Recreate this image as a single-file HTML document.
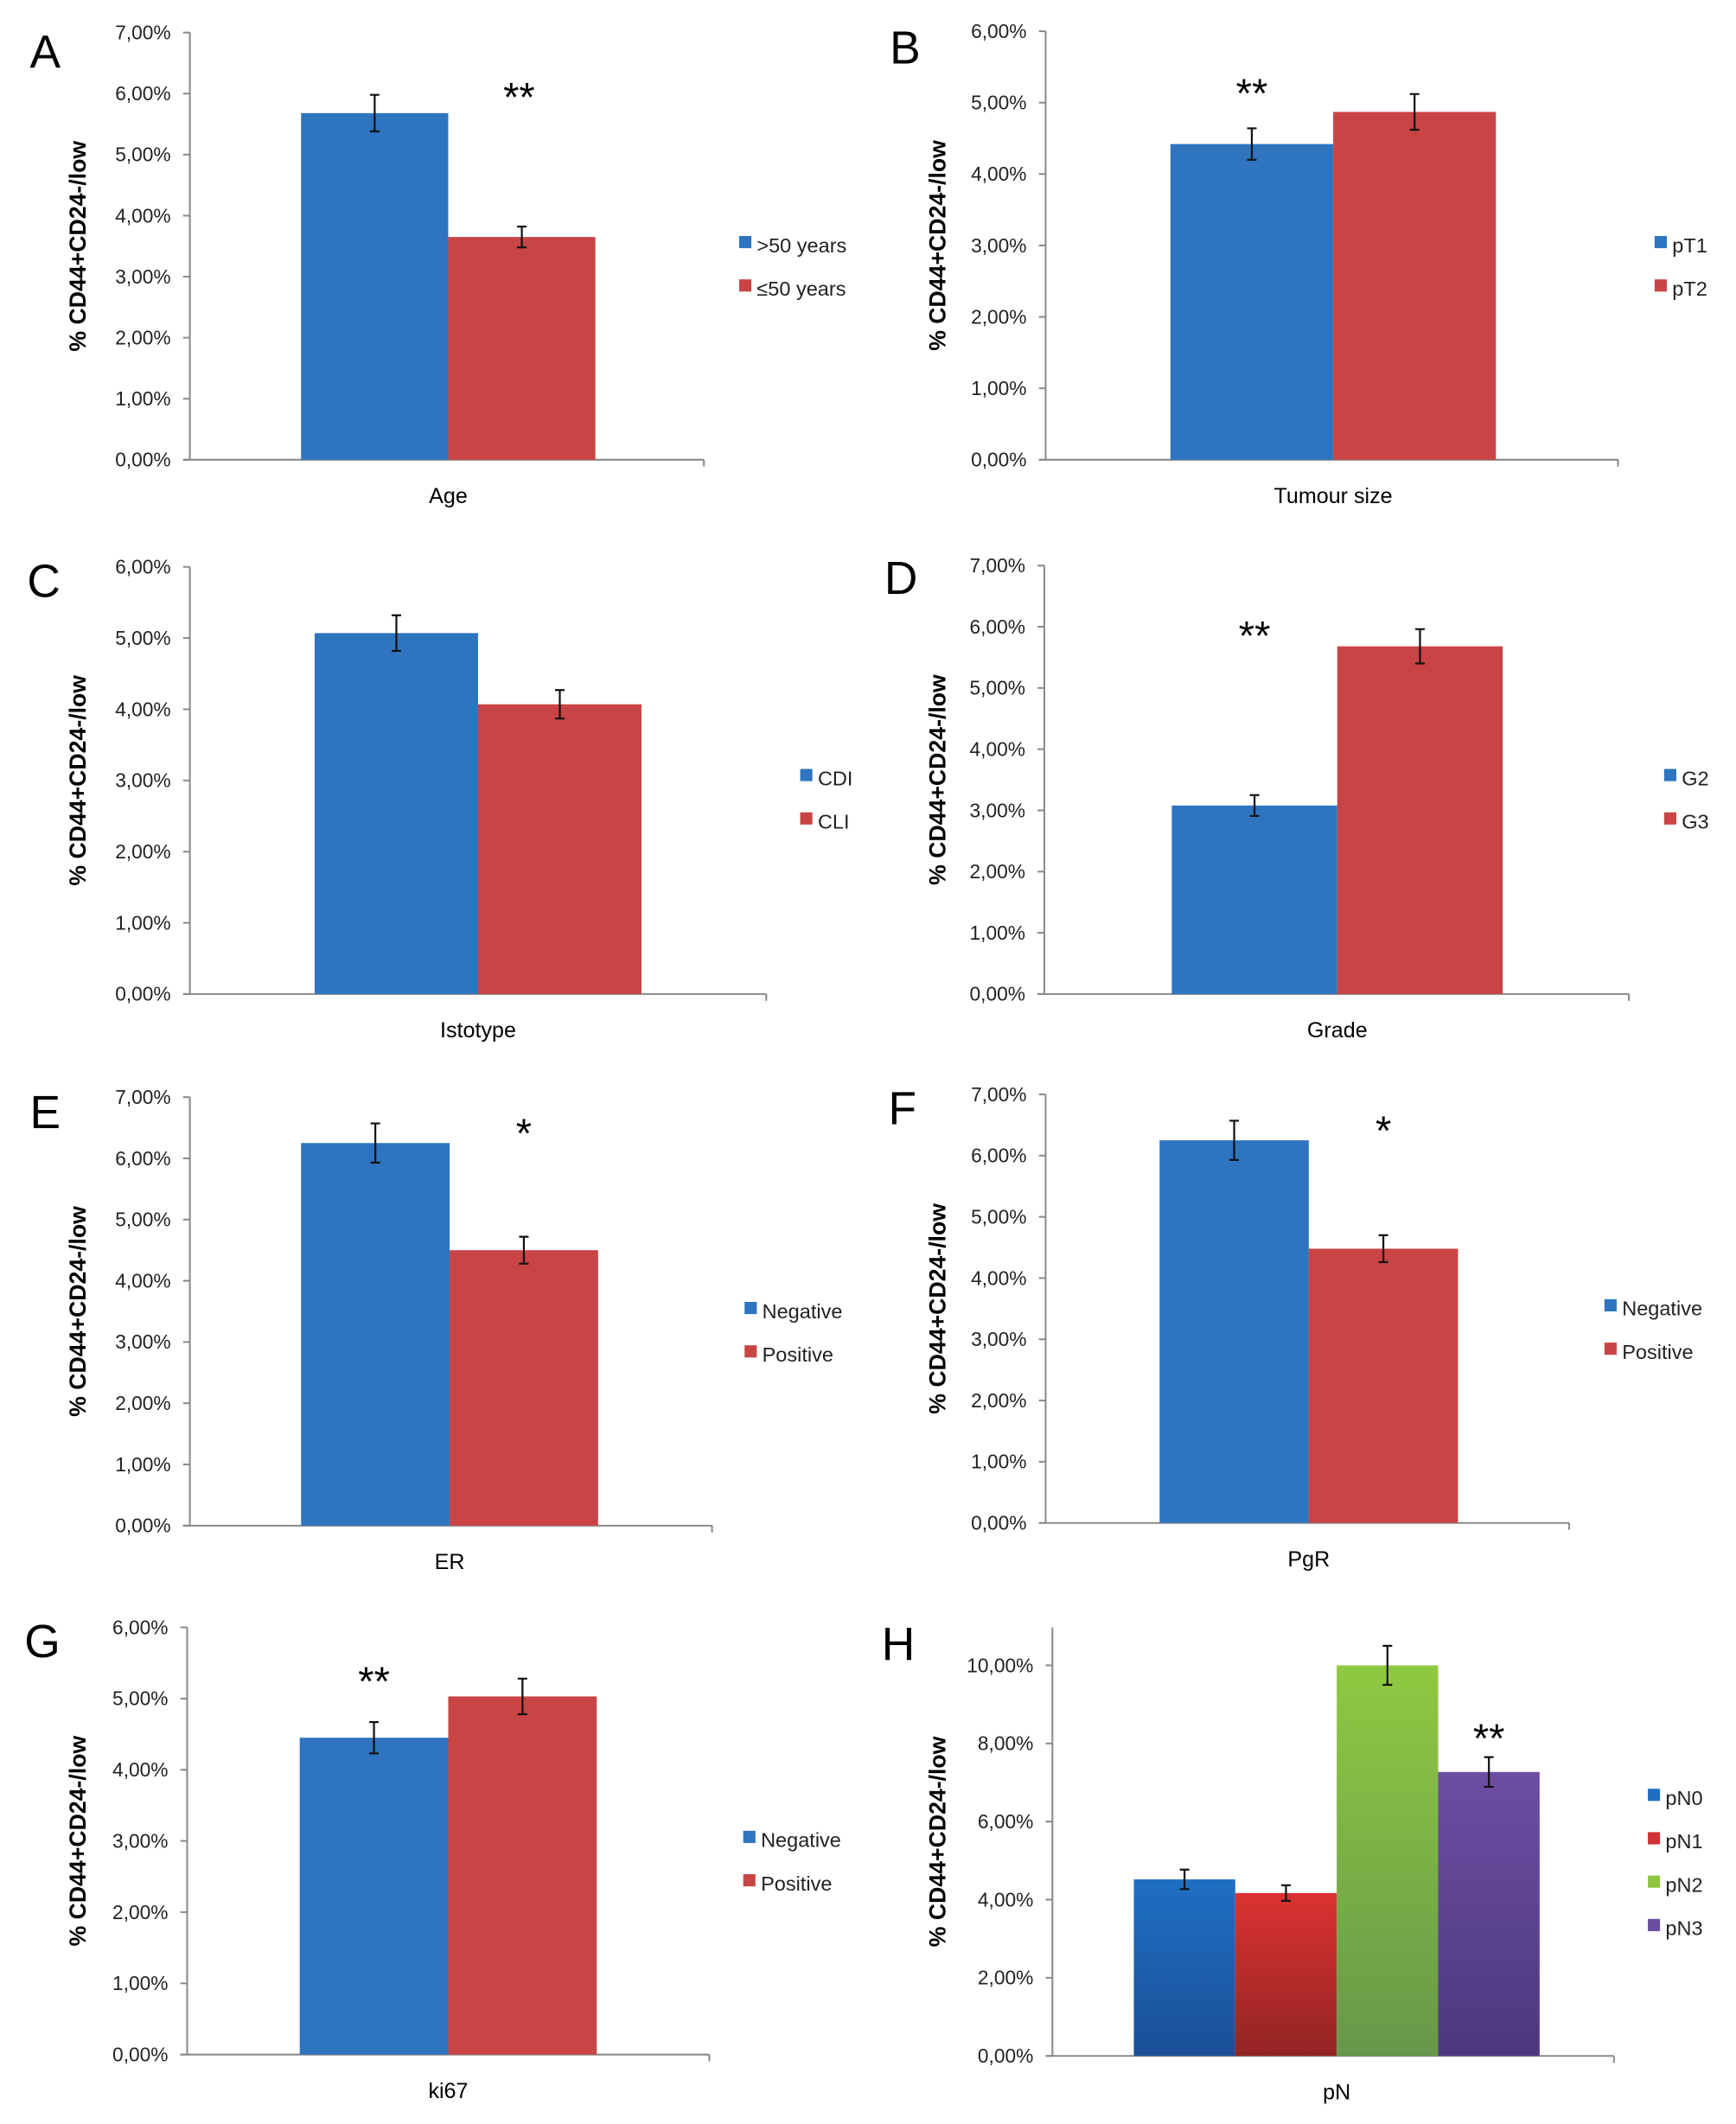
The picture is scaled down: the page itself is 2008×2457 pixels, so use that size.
<!DOCTYPE html>
<html><head><meta charset="utf-8">
<style>
html,body{margin:0;padding:0;background:#fff;}
svg{display:block;font-family:"Liberation Sans",sans-serif;}
</style></head>
<body>
<svg id="fig" width="2008" height="2457" viewBox="0 0 1280 1566.2" xmlns="http://www.w3.org/2000/svg">
<defs>
<linearGradient id="gBlue" x1="0" y1="0" x2="0" y2="1"><stop offset="0" stop-color="#1f6fc4"/><stop offset="1" stop-color="#1b4f97"/></linearGradient>
<linearGradient id="gRed" x1="0" y1="0" x2="0" y2="1"><stop offset="0" stop-color="#dc3232"/><stop offset="1" stop-color="#932424"/></linearGradient>
<linearGradient id="gGreen" x1="0" y1="0" x2="0" y2="1"><stop offset="0" stop-color="#8fc942"/><stop offset="1" stop-color="#67974a"/></linearGradient>
<linearGradient id="gPurple" x1="0" y1="0" x2="0" y2="1"><stop offset="0" stop-color="#6d4da3"/><stop offset="1" stop-color="#4c387e"/></linearGradient>
</defs>
</svg>
<script>
// Panel data
const panelLetters = ["A","B","C","D","E","F","G","H"];
const xTitles = ["Age","Tumour size","Istotype","Grade","ER","PgR","ki67","pN"];
const seriesNames = [[">50 years","≤50 years"],["pT1","pT2"],["CDI","CLI"],["G2","G3"],["Negative","Positive"],["Negative","Positive"],["Negative","Positive"],["pN0","pN1","pN2","pN3"]];
const seriesValues = [[5.68,3.65],[4.42,4.87],[5.07,4.07],[3.08,5.68],[6.25,4.50],[6.25,4.48],[4.45,5.03],[4.52,4.17,10.0,7.27]];
const seriesErrors = [[0.30,0.17],[0.22,0.25],[0.25,0.20],[0.17,0.28],[0.32,0.22],[0.32,0.22],[0.22,0.25],[0.25,0.20,0.50,0.38]];
const yMax = [7,6,6,7,7,7,6,11];
const tickStep = [1,1,1,1,1,1,1,2];
const sigMarks = [["","**"],["**",""],["",""],["**",""],["","*"],["","*"],["**",""],["","","","**"]];

// layout (viewBox units); sy = baseline of significance mark
const L = [
 {ax:140,top:24,zero:339,right:519,b0:222,bw:108.5,leg:545,ly:180,let:[22,50],tx:63,sy:82},
 {ax:771,top:23,zero:339,right:1193,b0:863,bw:120,leg:1220,ly:180,let:[656,47],tx:697,sy:79},
 {ax:140,top:418,zero:733,right:565,b0:232,bw:120.5,leg:590,ly:573,let:[20,440],tx:63,sy:0},
 {ax:770,top:417,zero:733,right:1201,b0:864,bw:122,leg:1227,ly:573,let:[652,438],tx:697,sy:479},
 {ax:140,top:809,zero:1125,right:525,b0:222,bw:109.5,leg:549,ly:966,let:[22,832],tx:63,sy:846},
 {ax:771,top:807,zero:1123,right:1157,b0:855,bw:110,leg:1183,ly:964,let:[655,829],tx:697,sy:844},
 {ax:138,top:1200,zero:1515,right:523,b0:221,bw:109.5,leg:548,ly:1356,let:[18,1222],tx:63,sy:1250},
 {ax:776,top:1200,zero:1516,right:1190,b0:836,bw:74.8,leg:1215,ly:1325,let:[650,1224],tx:697,sy:1292}
];
const flatCols = ["#2e74bf","#c94444"];
const gradCols = ["url(#gBlue)","url(#gRed)","url(#gGreen)","url(#gPurple)"];
const legCols = ["#1f6fc4","#d33030","#8ec63f","#6a4ca0"];
const NS = "http://www.w3.org/2000/svg";
const svg = document.getElementById("fig");
function mk(tag, attrs, parent){const e=document.createElementNS(NS,tag);for(const k in attrs)e.setAttribute(k,attrs[k]);(parent||svg).appendChild(e);return e;}
function fmt(v){return v.toFixed(2).replace(".",",")+"%";}

panelLetters.forEach((letter,p)=>{
  const c=L[p];
  const g=mk("g",{});
  
  
  const H = (p===7) ? (c.zero-1228)/10 : (c.zero-c.top)/yMax[p];
  const y = v => c.zero - v*H;
  const lt=mk("text",{x:c.let[0],y:c.let[1],"font-size":34,fill:"#000"},g);
  lt.textContent=letter;
  
  
  const ya=mk("line",{x1:c.ax,y1:c.top,x2:c.ax,y2:c.zero,stroke:"#8a8a8a","stroke-width":1.3},g);
  
  
  const xa=mk("line",{x1:c.ax-5,y1:c.zero,x2:c.right,y2:c.zero,stroke:"#8a8a8a","stroke-width":1.3},g);
  
  
  mk("line",{x1:c.right,y1:c.zero,x2:c.right,y2:c.zero+5,stroke:"#8a8a8a","stroke-width":1.3},g);
  const maxTick = p===7 ? 10 : yMax[p];
  for(let v=0; v<=maxTick+1e-9; v+=tickStep[p]){
    mk("line",{x1:c.ax-5,y1:y(v),x2:c.ax,y2:y(v),stroke:"#8a8a8a","stroke-width":1.3},g);
    const t=mk("text",{x:c.ax-14,y:y(v)+5,"font-size":14.5,"text-anchor":"end",fill:"#222"},g);
    t.textContent=fmt(v);
    
    
  }
  const ty=(c.top+c.zero)/2;
  const yt=mk("text",{x:c.tx,y:ty,"font-size":17,"font-weight":"bold","text-anchor":"middle",transform:`rotate(-90 ${c.tx} ${ty})`,fill:"#000"},g);
  yt.textContent="% CD44+CD24-/low";
  
  
  const vals=seriesValues[p];
  vals.forEach((v,i)=>{
    const x0=c.b0+i*c.bw;
    const fill = p===7 ? gradCols[i] : flatCols[i];
    const r=mk("rect",{x:x0,y:y(v),width:c.bw,height:c.zero-y(v),fill:fill},g);
    
    
    const e=seriesErrors[p][i], cx=x0+c.bw/2;
    const eb=mk("path",{d:`M${cx},${y(v+e)}V${y(v-e)}M${cx-3.5},${y(v+e)}H${cx+3.5}M${cx-3.5},${y(v-e)}H${cx+3.5}`,stroke:"#111","stroke-width":1.4,fill:"none"},g);
    
    
    if(sigMarks[p][i]){
      const s=mk("text",{x:cx+(p===0?-2:0),y:c.sy,"font-size":30,"text-anchor":"middle",fill:"#000"},g);
      s.textContent=sigMarks[p][i];
      
      
    }
    const ly=c.ly+i*32;
    const lr=mk("rect",{x:c.leg,y:ly-6,width:9,height:9,fill:p===7?legCols[i]:flatCols[i]},g);
    
    
    const ltx=mk("text",{x:c.leg+13,y:ly+6,"font-size":15,fill:"#222"},g);
    ltx.textContent=seriesNames[p][i];
    
    
  });
  const last=c.b0+vals.length*c.bw;
  const xt=mk("text",{x:(c.b0+last)/2,y:c.zero+32,"font-size":16,"text-anchor":"middle",fill:"#000"},g);
  xt.textContent=xTitles[p];
  
  
});
</script>
</body></html>
